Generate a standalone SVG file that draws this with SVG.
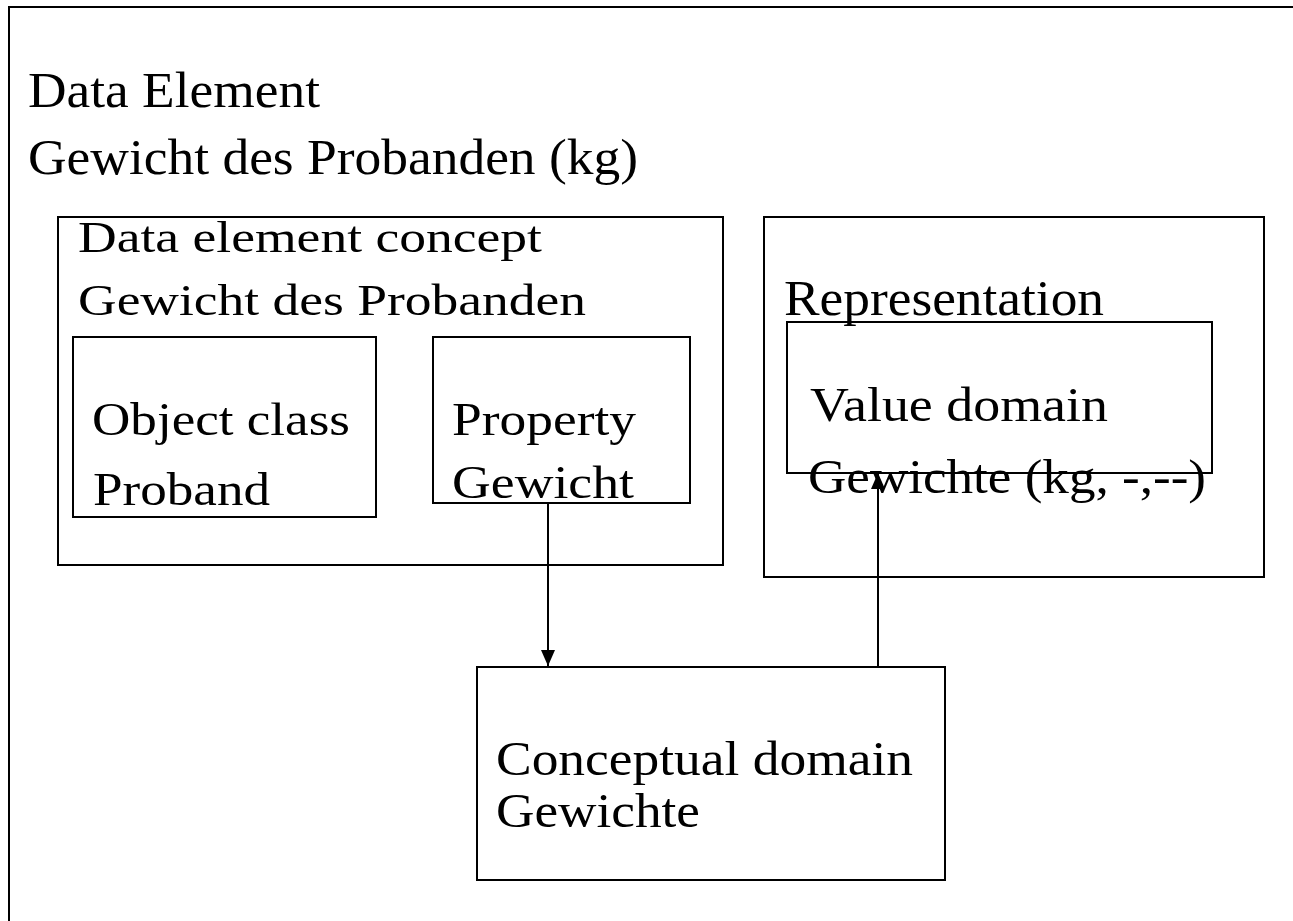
<svg xmlns="http://www.w3.org/2000/svg" width="1293" height="921" viewBox="0 0 1293 921">
<style>
.box{fill:none;stroke:#000;stroke-width:2}
.t{font-family:"Liberation Serif","Times New Roman",serif;fill:#000}
.c{stroke:#000;stroke-width:2;fill:none}
</style>
<defs>
<marker id="ah" markerUnits="userSpaceOnUse" markerWidth="16" markerHeight="16" viewBox="0 0 16 14" refX="16" refY="7" orient="auto">
<path d="M0,0 L16,7 L0,14 z" fill="#000"/>
</marker>
</defs>
<rect width="1293" height="921" fill="#fff"/>
<g id="data-element">
<path class="box" d="M9,921 L9,7 L1293,7"/>
<text class="t" x="28" y="107" font-size="50" textLength="292" lengthAdjust="spacingAndGlyphs">Data Element</text>
<text class="t" x="28" y="174" font-size="50" textLength="610" lengthAdjust="spacingAndGlyphs">Gewicht des Probanden (kg)</text>
</g>
<g id="data-element-concept">
<rect class="box" x="58" y="217" width="665" height="348"/>
<text class="t" x="78" y="252" font-size="45" textLength="464" lengthAdjust="spacingAndGlyphs">Data element concept</text>
<text class="t" x="78" y="315" font-size="45" textLength="508" lengthAdjust="spacingAndGlyphs">Gewicht des Probanden</text>
</g>
<g id="object-class">
<rect class="box" x="73" y="337" width="303" height="180"/>
<text class="t" x="92" y="435" font-size="47" textLength="258" lengthAdjust="spacingAndGlyphs">Object class</text>
<text class="t" x="93" y="505" font-size="47" textLength="177" lengthAdjust="spacingAndGlyphs">Proband</text>
</g>
<g id="property">
<rect class="box" x="433" y="337" width="257" height="166"/>
<text class="t" x="452" y="435" font-size="47" textLength="184" lengthAdjust="spacingAndGlyphs">Property</text>
<text class="t" x="452" y="498" font-size="47" textLength="182" lengthAdjust="spacingAndGlyphs">Gewicht</text>
</g>
<g id="representation">
<rect class="box" x="764" y="217" width="500" height="360"/>
<text class="t" x="784" y="315" font-size="50" textLength="320" lengthAdjust="spacingAndGlyphs">Representation</text>
</g>
<g id="value-domain">
<rect class="box" x="787" y="322" width="425" height="151"/>
<text class="t" x="810" y="421" font-size="48" textLength="298" lengthAdjust="spacingAndGlyphs">Value domain</text>
<text class="t" x="808" y="493" font-size="48" textLength="398" lengthAdjust="spacingAndGlyphs">Gewichte (kg, -,--)</text>
</g>
<g id="conceptual-domain">
<rect class="box" x="477" y="667" width="468" height="213"/>
<text class="t" x="496" y="775" font-size="48" textLength="417" lengthAdjust="spacingAndGlyphs">Conceptual domain</text>
<text class="t" x="496" y="827" font-size="48" textLength="204" lengthAdjust="spacingAndGlyphs">Gewichte</text>
</g>
<g id="connectors">
<line class="c" x1="548" y1="503" x2="548" y2="666" marker-end="url(#ah)"/>
<line class="c" x1="878" y1="667" x2="878" y2="473" marker-end="url(#ah)"/>
</g>
</svg>
